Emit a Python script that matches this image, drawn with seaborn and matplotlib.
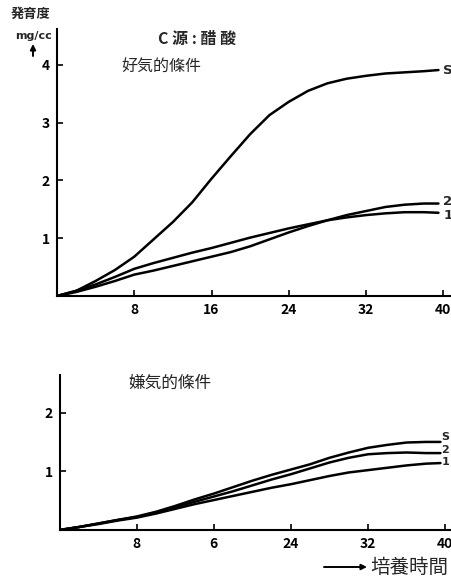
import numpy as np
import pandas as pd
import seaborn as sns
import matplotlib.pyplot as plt

# culture time (h)
hours = [0, 2, 4, 6, 8, 10, 12, 14, 16, 18, 20, 22, 24, 26, 28, 30, 32, 34, 36, 38, 39.5]

# aerobic
aer_S = [0, 0.09, 0.26, 0.45, 0.68, 0.98, 1.28, 1.62, 2.03, 2.42, 2.80, 3.13, 3.36, 3.55, 3.68, 3.76, 3.81, 3.85, 3.87, 3.89, 3.91]
aer_1 = [0, 0.09, 0.20, 0.33, 0.47, 0.57, 0.66, 0.75, 0.83, 0.92, 1.01, 1.09, 1.17, 1.24, 1.31, 1.36, 1.40, 1.43, 1.45, 1.45, 1.44]
aer_2 = [0, 0.07, 0.16, 0.26, 0.37, 0.44, 0.52, 0.60, 0.68, 0.76, 0.86, 0.98, 1.10, 1.21, 1.31, 1.40, 1.47, 1.54, 1.58, 1.60, 1.60]

# anaerobic
ana_S = [0, 0.05, 0.11, 0.17, 0.23, 0.31, 0.41, 0.52, 0.62, 0.73, 0.84, 0.94, 1.03, 1.12, 1.23, 1.32, 1.40, 1.45, 1.49, 1.50, 1.50]
ana_2 = [0, 0.05, 0.11, 0.17, 0.22, 0.30, 0.39, 0.48, 0.57, 0.66, 0.76, 0.86, 0.95, 1.05, 1.15, 1.23, 1.29, 1.31, 1.32, 1.31, 1.31]
ana_1 = [0, 0.05, 0.10, 0.16, 0.21, 0.28, 0.36, 0.44, 0.51, 0.58, 0.65, 0.72, 0.78, 0.85, 0.92, 0.98, 1.02, 1.06, 1.10, 1.13, 1.14]

curve_names = ["S", "2", "1"]
top_xticks = [8, 16, 24, 32, 40]
top_xlabels = ["8", "16", "24", "32", "40"]
bot_xlabels = ["8", "6", "24", "32", "40"]  # "6" as printed in the original

sns.set_style("ticks")
plt.rcParams["font.family"] = ["Noto Sans CJK JP", "DejaVu Sans"]

W, H = 452, 578
fig = plt.figure(figsize=(W / 100, H / 100), dpi=100)


def px_axes(left, top, right, bottom):
    return fig.add_axes([left / W, 1 - bottom / H, (right - left) / W, (bottom - top) / H])


def long_df(series):
    rows = []
    for name, vals in zip(curve_names, series):
        rows += [(h, v, name) for h, v in zip(hours, vals)]
    return pd.DataFrame(rows, columns=["time", "growth", "curve"])


def style_axes(ax, xlim, ylim, yticks, xlabels):
    ax.set_xlim(*xlim)
    ax.set_ylim(*ylim)
    ax.set_xticks(top_xticks)
    ax.set_xticklabels(xlabels, fontweight="bold", fontsize=10)
    ax.set_yticks(yticks)
    ax.set_yticklabels([str(t) for t in yticks], fontweight="bold", fontsize=10)
    ax.set_xlabel("")
    ax.set_ylabel("")
    ax.tick_params(direction="in", length=4, width=1.2, pad=5, colors="black")
    sns.despine(ax=ax)
    for s in ["left", "bottom"]:
        ax.spines[s].set_linewidth(1.5)
        ax.spines[s].set_color("black")


pal = {n: "black" for n in curve_names}

# aerobic panel
ax1 = px_axes(57, 29, 451, 296)
sns.lineplot(data=long_df([aer_S, aer_2, aer_1]), x="time", y="growth", hue="curve",
             palette=pal, estimator=None, sort=False, legend=False, lw=1.8, ax=ax1)
style_axes(ax1, (0, 40.8), (0, 4.62), [1, 2, 3, 4], top_xlabels)
for lab, yv in zip(curve_names, [aer_S[-1], aer_2[-1] + 0.03, aer_1[-1] - 0.05]):
    ax1.text(40.0, yv, lab, ha="left", va="center", fontsize=9.5, fontweight="bold",
             family="DejaVu Sans", clip_on=False)

# anaerobic panel
ax2 = px_axes(59.5, 375, 452, 530)
sns.lineplot(data=long_df([ana_S, ana_2, ana_1]), x="time", y="growth", hue="curve",
             palette=pal, estimator=None, sort=False, legend=False, lw=1.8, ax=ax2)
style_axes(ax2, (0, 40.7), (0, 2.64), [1, 2], bot_xlabels)
for lab, yv in zip(curve_names, [1.58, 1.37, 1.16]):
    ax2.text(39.6, yv, lab, ha="left", va="center", fontsize=8, fontweight="bold",
             family="DejaVu Sans", clip_on=False)


def ftext(x, y, s, **kw):
    fig.text(x / W, 1 - y / H, s, ha="center", va="center", **kw)


def farrow(x0, y0, x1, y1):
    ax2.annotate("", xy=(x1, H - y1), xycoords="figure pixels",
                 xytext=(x0, H - y0), textcoords="figure pixels", annotation_clip=False,
                 arrowprops=dict(arrowstyle="-|>", color="black", lw=1.4, mutation_scale=8,
                                 shrinkA=0, shrinkB=0))


ftext(31, 14, "発育度", fontsize=9.5, fontweight="bold")
ftext(33, 36, "mg/cc", fontsize=8, fontweight="bold", family="DejaVu Sans")
farrow(33, 56, 33, 44)
ftext(197, 39, "C 源 : 醋 酸", fontsize=11.5, fontweight="bold")
ftext(161, 66, "好気的條件", fontsize=11.5)
ftext(170, 383, "嫌気的條件", fontsize=12)
ftext(409, 567, "培養時間", fontsize=14)
farrow(324, 567, 367, 567)

fig.savefig("out.png", dpi=100)
